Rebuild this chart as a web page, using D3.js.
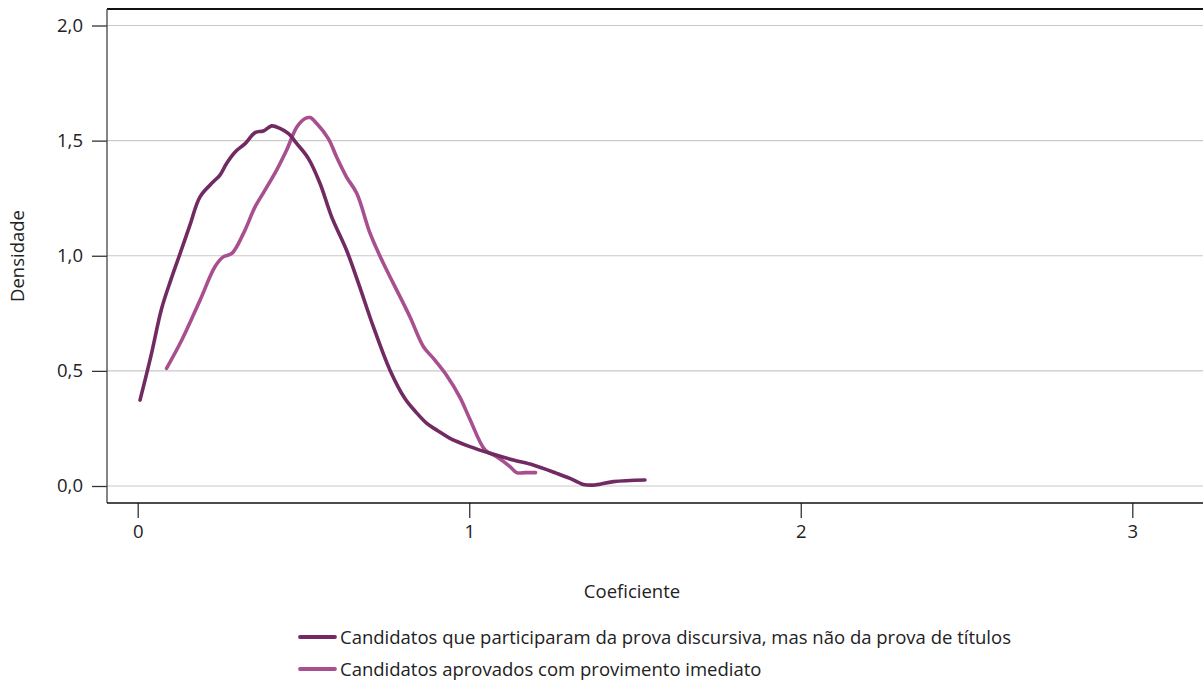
<!DOCTYPE html>
<html>
<head>
<meta charset="utf-8">
<script src="https://cdn.jsdelivr.net/npm/d3@7"></script>
<style>
  html, body { margin: 0; padding: 0; background: #fff; }
  svg { display: block; font-family: "Open Sans", "Noto Sans", sans-serif; }
</style>
</head>
<body>
<svg id="chart" width="1203" height="684"></svg>
<script>
// Kernel density estimates of the coefficient for two groups of candidates
const seriesNames = [
  "Candidatos que participaram da prova discursiva, mas não da prova de títulos",
  "Candidatos aprovados com provimento imediato"
];
const seriesColors = ["#722a63", "#a8508f"];

const discursivaX = [0.007, 0.040, 0.072, 0.100, 0.128, 0.158, 0.188, 0.228, 0.248, 0.268, 0.294, 0.324, 0.354, 0.379, 0.404, 0.429, 0.454, 0.480, 0.515, 0.550, 0.585, 0.630, 0.666, 0.711, 0.761, 0.806, 0.840, 0.872, 0.905, 0.942, 1.002, 1.063, 1.133, 1.193, 1.264, 1.304, 1.344, 1.374, 1.435, 1.530];
const discursivaY = [0.373, 0.565, 0.770, 0.895, 1.010, 1.135, 1.256, 1.321, 1.350, 1.401, 1.451, 1.487, 1.535, 1.542, 1.564, 1.553, 1.531, 1.487, 1.422, 1.314, 1.169, 1.024, 0.880, 0.691, 0.503, 0.380, 0.320, 0.272, 0.240, 0.207, 0.171, 0.142, 0.113, 0.091, 0.055, 0.033, 0.007, 0.004, 0.019, 0.026];

const aprovadosX = [0.087, 0.133, 0.188, 0.233, 0.258, 0.284, 0.319, 0.354, 0.384, 0.419, 0.449, 0.480, 0.505, 0.520, 0.540, 0.575, 0.600, 0.630, 0.661, 0.701, 0.741, 0.771, 0.821, 0.862, 0.892, 0.932, 0.972, 1.002, 1.048, 1.083, 1.123, 1.143, 1.170, 1.200];
const aprovadosY = [0.511, 0.634, 0.807, 0.952, 0.995, 1.010, 1.097, 1.212, 1.285, 1.372, 1.458, 1.559, 1.596, 1.600, 1.574, 1.509, 1.429, 1.342, 1.270, 1.097, 0.967, 0.880, 0.735, 0.605, 0.554, 0.480, 0.385, 0.290, 0.156, 0.127, 0.084, 0.058, 0.058, 0.058];

const xTicks = [0, 1, 2, 3];
const yTicks = [0, 0.5, 1.0, 1.5, 2.0];
const yTickLabels = ["0,0", "0,5", "1,0", "1,5", "2,0"];

const svg = d3.select("#chart");
const frame = { left: 107, right: 1203, top: 9, bottom: 503 };
const fontSize = 18.5;

const x = d3.scaleLinear().domain([0, 3]).range([137.7, 1132.3]);
const y = d3.scaleLinear().domain([0, 2]).range([486, 25.5]);

// horizontal gridlines
svg.append("g")
  .selectAll("line")
  .data(yTicks)
  .join("line")
  .attr("x1", frame.left).attr("x2", frame.right)
  .attr("y1", d => y(d)).attr("y2", d => y(d))
  .attr("stroke", "#c9c9c9").attr("stroke-width", 1.2);

// frame: top rule, left axis, bottom axis
svg.append("line")
  .attr("x1", frame.left).attr("x2", frame.right)
  .attr("y1", frame.top).attr("y2", frame.top)
  .attr("stroke", "#111").attr("stroke-width", 2);

const yAxis = d3.axisLeft(y).tickValues(yTicks)
  .tickFormat((d, i) => yTickLabels[i]).tickSize(15).tickPadding(9);
const gy = svg.append("g").attr("transform", `translate(${frame.left},0)`).call(yAxis);
gy.attr("font-family", null).attr("font-size", null);
gy.select(".domain").remove();
gy.selectAll(".tick line").attr("stroke", "#333").attr("stroke-width", 1.3);
gy.selectAll(".tick text").attr("font-size", fontSize).attr("fill", "#222");
svg.append("line")
  .attr("x1", frame.left).attr("x2", frame.left)
  .attr("y1", frame.top).attr("y2", frame.bottom)
  .attr("stroke", "#444").attr("stroke-width", 1.3);

const xAxis = d3.axisBottom(x).tickValues(xTicks).tickFormat(d3.format("d"))
  .tickSize(15).tickPadding(7);
const gx = svg.append("g").attr("transform", `translate(0,${frame.bottom})`).call(xAxis);
gx.attr("font-family", null).attr("font-size", null);
gx.select(".domain").remove();
gx.selectAll(".tick line").attr("stroke", "#333").attr("stroke-width", 1.3);
gx.selectAll(".tick text").attr("font-size", fontSize).attr("fill", "#222");
svg.append("line")
  .attr("x1", frame.left).attr("x2", frame.right)
  .attr("y1", frame.bottom).attr("y2", frame.bottom)
  .attr("stroke", "#111").attr("stroke-width", 1.6);

// axis titles
svg.append("text")
  .attr("x", 632).attr("y", 598)
  .attr("text-anchor", "middle").attr("font-size", fontSize).attr("fill", "#222")
  .text("Coeficiente");
svg.append("text")
  .attr("transform", "translate(24,256) rotate(-90)")
  .attr("text-anchor", "middle").attr("font-size", fontSize).attr("fill", "#222")
  .text("Densidade");

// density curves
const line = d3.line()
  .x(d => x(d[0])).y(d => y(d[1]))
  .curve(d3.curveCatmullRom.alpha(0.5));

const series = [
  d3.zip(discursivaX, discursivaY),
  d3.zip(aprovadosX, aprovadosY)
];
const drawOrder = [1, 0];
drawOrder.forEach(i => {
  svg.append("path")
    .datum(series[i])
    .attr("d", line)
    .attr("fill", "none")
    .attr("stroke", seriesColors[i])
    .attr("stroke-width", 3.6)
    .attr("stroke-linecap", "round")
    .attr("stroke-linejoin", "round");
});

// legend
const legend = svg.append("g");
seriesNames.forEach((name, i) => {
  const ly = 637 + i * 32;
  legend.append("line")
    .attr("x1", 300).attr("x2", 335).attr("y1", ly).attr("y2", ly)
    .attr("stroke", seriesColors[i]).attr("stroke-width", 3.8)
    .attr("stroke-linecap", "round");
  legend.append("text")
    .attr("x", 340).attr("y", ly + 6.5)
    .attr("font-size", fontSize).attr("fill", "#222")
    .text(name);
});
</script>
</body>
</html>
